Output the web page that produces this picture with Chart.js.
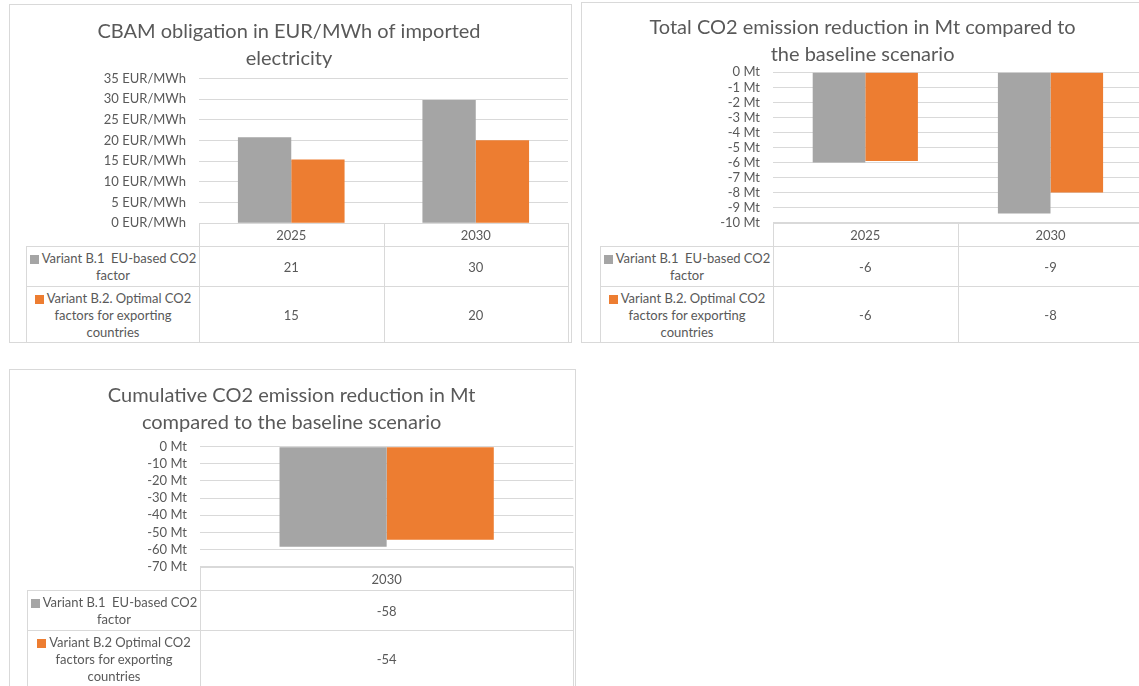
<!DOCTYPE html>
<html>
<head>
<meta charset="utf-8">
<script src="https://cdn.jsdelivr.net/npm/chart.js@4.4.1/dist/chart.umd.min.js"></script>
<style>
  html, body { margin:0; padding:0; background:#fff; }
  body { width:1139px; height:686px; overflow:hidden; position:relative; font-family: Lato, "Open Sans", sans-serif; color:#595959; }
  .panel { position:absolute; border:1px solid #d9d9d9; background:#fff; box-sizing:border-box; overflow:hidden; }
  .panel canvas { position:absolute; left:0; top:0; }
  .cell { position:absolute; box-sizing:border-box; display:flex; flex-direction:column; align-items:center; justify-content:center; text-align:center; font-size:13px; line-height:17px; color:#595959; white-space:pre; }
  .ln { position:absolute; background:#d9d9d9; }
  .sq { display:inline-block; width:9px; height:9px; margin-right:3px; vertical-align:-1px; }
</style>
</head>
<body>
<script>
// ---------- DATA ----------
const years2 = ['2025', '2030'];
const years1 = ['2030'];

// Chart 1: CBAM obligation (EUR/MWh)
const cbamB1 = [20.8, 29.8];
const cbamB2 = [15.4, 20.1];
const cbamTicks = [0, 5, 10, 15, 20, 25, 30, 35];

// Chart 2: total CO2 emission reduction (Mt)
const totalB1 = [-6.0, -9.4];
const totalB2 = [-5.9, -8.0];
const totalTicks = [0, -1, -2, -3, -4, -5, -6, -7, -8, -9, -10];

// Chart 3: cumulative CO2 emission reduction (Mt)
const cumB1 = [-58.3];
const cumB2 = [-54.3];
const cumTicks = [0, -10, -20, -30, -40, -50, -60, -70];

// Titles and series names (lines)
const title1 = ['CBAM obligation in EUR/MWh of imported', 'electricity'];
const title2 = ['Total CO2 emission reduction in Mt compared to', 'the baseline scenario'];
const title3 = ['Cumulative CO2 emission reduction in Mt', 'compared to the baseline scenario'];
const nameB1 = ['Variant B.1  EU-based CO2', 'factor'];
const nameB2 = ['Variant B.2. Optimal CO2', 'factors for exporting', 'countries'];
const nameB2cum = ['Variant B.2 Optimal CO2', 'factors for exporting', 'countries'];

// ---------- STYLE ----------
const GRAY = '#A5A5A5', ORANGE = '#ED7D31', TXT = '#595959', GRID = '#D9D9D9';
const FONT = 'Lato, "Open Sans", sans-serif';

function line(parent, x, y, w, h) {
  const d = document.createElement('div');
  d.className = 'ln';
  Object.assign(d.style, { left: x + 'px', top: y + 'px', width: w + 'px', height: h + 'px' });
  parent.appendChild(d);
}
function cell(parent, x, y, w, h, html) {
  const d = document.createElement('div');
  d.className = 'cell';
  Object.assign(d.style, { left: x + 'px', top: y + 'px', width: w + 'px', height: h + 'px' });
  d.innerHTML = html;
  parent.appendChild(d);
}
function esc(s) { return s.replace(/&/g, '&amp;').replace(/</g, '&lt;'); }

function makePanel(p) {
  const panel = document.createElement('div');
  panel.className = 'panel';
  Object.assign(panel.style, { left: p.box[0] + 'px', top: p.box[1] + 'px', width: p.box[2] + 'px', height: p.box[3] + 'px' });
  document.body.appendChild(panel);
  const cv = document.createElement('canvas');
  cv.width = p.canvas[0]; cv.height = p.canvas[1];
  cv.style.width = p.canvas[0] + 'px'; cv.style.height = p.canvas[1] + 'px';
  panel.appendChild(cv);

  const chart = new Chart(cv, {
    type: 'bar',
    data: {
      labels: p.categories,
      datasets: [
        { label: p.names[0].join(' '), data: p.s1, backgroundColor: GRAY, borderWidth: 0 },
        { label: p.names[1].join(' '), data: p.s2, backgroundColor: ORANGE, borderWidth: 0 }
      ]
    },
    options: {
      responsive: false, animation: false, devicePixelRatio: 1,
      layout: { padding: p.pad },
      datasets: { bar: { categoryPercentage: p.catPct, barPercentage: 1 } },
      plugins: {
        legend: { display: false },
        tooltip: { enabled: false },
        title: {
          display: true, text: p.title, color: TXT,
          font: { family: FONT, size: 20, weight: 'normal', lineHeight: 1.35 },
          padding: { top: p.titlePad[0], bottom: p.titlePad[1] }
        }
      },
      scales: {
        x: { display: false },
        y: {
          min: Math.min(...p.ticks), max: Math.max(...p.ticks),
          afterBuildTicks: s => { s.ticks = p.ticks.map(v => ({ value: v })); },
          afterFit: s => { s.width = p.yw; },
          grid: { color: GRID, drawTicks: false, lineWidth: 1 },
          border: { display: false },
          ticks: { autoSkip: false, padding: p.tickPad, color: TXT, font: { family: FONT, size: 13 }, callback: v => v + p.unit }
        }
      }
    }
  });

  // ---------- data table below the axis ----------
  const ca = chart.chartArea;
  const n = p.categories.length;
  const cw = (ca.right - ca.left) / n;
  const y0 = Math.round(ca.bottom);
  const rows = [23, 40, 56];
  const yH = y0 + rows[0], yR = yH + rows[1], yEnd = yR + rows[2];
  const L = p.legendLeft - p.box[0] - 1;
  const colL = Math.round(ca.left), colR = Math.round(ca.right);
  line(panel, colL, y0, colR - colL + 1, 1);
  line(panel, L, yH, colR - L + 1, 1);
  line(panel, L, yR, colR - L + 1, 1);
  line(panel, L, yEnd, colR - L + 1, 1);
  line(panel, L, yH, 1, yEnd - yH + 1);
  for (let i = 0; i <= n; i++) {
    line(panel, Math.round(ca.left + i * cw), y0, 1, yEnd - y0 + 1);
  }
  const series = [p.s1, p.s2];
  const colors = [GRAY, ORANGE];
  for (let i = 0; i < n; i++) {
    const x = ca.left + i * cw;
    cell(panel, x, y0 + 1, cw, rows[0], esc(p.categories[i]));
    cell(panel, x, yH + 1, cw, rows[1], String(Math.round(series[0][i])));
    cell(panel, x, yR + 1, cw, rows[2], String(Math.round(series[1][i])));
  }
  [yH, yR].forEach((yy, k) => {
    const nm = p.names[k];
    const html = nm.map((t, j) => '<div>' + (j === 0 ? '<span class="sq" style="background:' + colors[k] + '"></span>' : '') + esc(t) + '</div>').join('');
    cell(panel, L + 1, yy + 1, colL - L - 1, rows[k + 1], html);
  });
}

makePanel({
  box: [9, 4, 563, 339], canvas: [560, 240],
  pad: { left: 0, right: 2, top: 0, bottom: 21.7 },
  titlePad: [12.7, 6.8], yw: 189, tickPad: 13, catPct: 0.578,
  categories: years2, s1: cbamB1, s2: cbamB2, ticks: cbamTicks, unit: ' EUR/MWh',
  title: title1, names: [nameB1, nameB2], legendLeft: 26
});
makePanel({
  box: [581, 2, 570, 341], canvas: [566, 240],
  pad: { left: 0, right: 4.9, top: 0, bottom: 20.3 },
  titlePad: [11.5, 3.8], yw: 190.7, tickPad: 12.7, catPct: 0.568,
  categories: years2, s1: totalB1, s2: totalB2, ticks: totalTicks, unit: ' Mt',
  title: title2, names: [nameB1, nameB2], legendLeft: 600
});
makePanel({
  box: [9, 369, 567, 330], canvas: [564, 220],
  pad: { left: 0, right: 0.7, top: 0, bottom: 23.3 },
  titlePad: [12.5, 10.2], yw: 190, tickPad: 13, catPct: 0.574,
  categories: years1, s1: cumB1, s2: cumB2, ticks: cumTicks, unit: ' Mt',
  title: title3, names: [nameB1, nameB2cum], legendLeft: 27
});
</script>
</body>
</html>
